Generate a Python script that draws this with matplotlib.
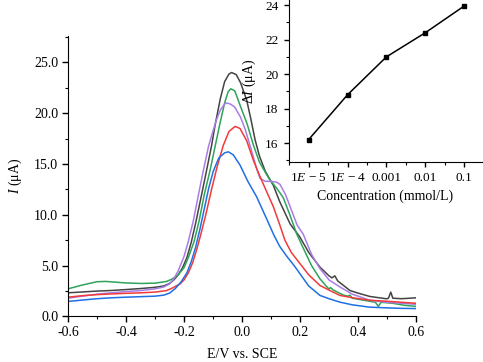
import matplotlib
matplotlib.use('Agg')
import matplotlib.pyplot as plt
from matplotlib.ticker import MultipleLocator, FormatStrFormatter

plt.rcParams['font.family'] = ['Liberation Serif', 'DejaVu Serif']
plt.rcParams['mathtext.fontset'] = 'custom'
plt.rcParams['mathtext.rm'] = 'Liberation Serif'
plt.rcParams['mathtext.it'] = 'Liberation Serif:italic'
plt.rcParams['axes.unicode_minus'] = True

#DPV curves (E in V, I in uA)
black_E = [-0.60, -0.50, -0.45, -0.40, -0.35, -0.30, -0.27, -0.25, -0.235, -0.22, -0.205, -0.19,
           -0.175, -0.159, -0.14, -0.122, -0.105, -0.093, -0.075, -0.06, -0.045, -0.036, -0.02,
           -0.005, 0.016, 0.03, 0.045, 0.06, 0.08, 0.108, 0.13, 0.166, 0.20, 0.23, 0.269, 0.30,
           0.31, 0.32, 0.33, 0.372, 0.40, 0.441, 0.499, 0.505, 0.513, 0.52, 0.55, 0.58, 0.60]
black_I = [2.33, 2.50, 2.56, 2.65, 2.75, 2.87, 3.0, 3.25, 3.6, 4.1, 4.8, 5.8,
           7.3, 9.3, 11.9, 14.4, 16.8, 18.8, 21.4, 23.1, 23.85, 24.0, 23.8,
           23.0, 21.3, 19.5, 17.4, 15.8, 14.3, 12.9, 11.3, 9.1, 7.8, 6.3, 4.85, 4.0,
           3.8, 4.0, 3.5, 2.56, 2.3, 1.97, 1.74, 1.8, 2.4, 1.8, 1.75, 1.8, 1.84]

green_E = [-0.60, -0.55, -0.50, -0.47, -0.40, -0.35, -0.30, -0.26, -0.24, -0.22, -0.20, -0.185,
           -0.165, -0.148, -0.13, -0.11, -0.093, -0.076, -0.06, -0.048, -0.039, -0.025, -0.007,
           0.017, 0.04, 0.06, 0.08, 0.097, 0.12, 0.142, 0.165, 0.189, 0.21, 0.24, 0.269, 0.29,
           0.30, 0.305, 0.315, 0.35, 0.365, 0.372, 0.38, 0.42, 0.46, 0.47, 0.48, 0.52, 0.56, 0.60]
green_I = [2.72, 3.1, 3.42, 3.45, 3.3, 3.25, 3.28, 3.45, 3.7, 4.1, 4.8, 5.8,
           7.4, 9.4, 12.0, 14.4, 16.7, 19.0, 21.0, 22.1, 22.4, 22.2, 20.8,
           19.0, 16.8, 15.2, 14.2, 13.4, 12.6, 11.7, 10.0, 8.1, 6.8, 5.0, 3.7, 3.0,
           2.7, 2.85, 2.6, 2.1, 2.0, 2.1, 1.8, 1.6, 1.4, 1.0, 1.4, 1.3, 1.1, 1.0]

purple_E = [-0.60, -0.55, -0.50, -0.45, -0.40, -0.35, -0.30, -0.27, -0.25, -0.235, -0.22, -0.20,
            -0.185, -0.168, -0.15, -0.133, -0.115, -0.09, -0.075, -0.06, -0.053, -0.04, -0.025,
            -0.005, 0.01, 0.03, 0.05, 0.062, 0.08, 0.10, 0.12, 0.131, 0.15, 0.17, 0.19, 0.211,
            0.24, 0.269, 0.30, 0.338, 0.38, 0.441, 0.50, 0.55, 0.60]
purple_I = [1.80, 2.0, 2.2, 2.33, 2.45, 2.55, 2.72, 2.9, 3.2, 3.7, 4.5, 5.9,
            7.4, 9.4, 12.0, 14.4, 16.8, 19.2, 20.3, 20.9, 21.0, 20.9, 20.6,
            19.6, 18.5, 16.6, 14.6, 13.6, 13.3, 13.3, 13.2, 13.0, 12.0, 10.5, 9.0, 8.1,
            6.1, 4.7, 3.6, 2.9, 2.2, 1.6, 1.4, 1.3, 1.2]

red_E = [-0.60, -0.55, -0.50, -0.45, -0.40, -0.35, -0.30, -0.26, -0.24, -0.214, -0.20, -0.185,
         -0.17, -0.155, -0.14, -0.125, -0.105, -0.087, -0.065, -0.045, -0.024, -0.007, 0.016,
         0.04, 0.06, 0.08, 0.108, 0.128, 0.148, 0.17, 0.20, 0.23, 0.269, 0.30, 0.338, 0.38,
         0.44, 0.50, 0.55, 0.60]
red_I = [1.90, 2.05, 2.15, 2.22, 2.28, 2.33, 2.40, 2.55, 2.8, 3.2, 3.6, 4.3,
         5.3, 6.7, 8.3, 10.0, 12.5, 14.6, 16.8, 18.2, 18.7, 18.5, 17.3,
         15.3, 13.9, 12.6, 10.8, 9.2, 7.5, 6.3, 5.2, 4.1, 3.05, 2.6, 2.07, 1.85,
         1.6, 1.5, 1.4, 1.3]

blue_E = [-0.60, -0.55, -0.50, -0.45, -0.40, -0.35, -0.30, -0.27, -0.25, -0.23, -0.21, -0.19,
          -0.175, -0.16, -0.145, -0.13, -0.115, -0.099, -0.08, -0.06, -0.047, -0.03, -0.007,
          0.02, 0.05, 0.085, 0.11, 0.13, 0.155, 0.18, 0.20, 0.23, 0.269, 0.30, 0.338, 0.38,
          0.44, 0.50, 0.55, 0.60]
blue_I = [1.48, 1.62, 1.75, 1.84, 1.9, 1.95, 2.0, 2.1, 2.3, 2.75, 3.4, 4.3,
          5.4, 6.8, 8.6, 10.6, 12.6, 14.3, 15.6, 16.1, 16.2, 15.9, 14.9,
          13.3, 11.8, 9.6, 8.0, 6.9, 5.9, 5.0, 4.2, 3.0, 2.07, 1.75, 1.41, 1.15,
          0.92, 0.85, 0.8, 0.78]

#inset: peak current vs concentration
conc_labels = ['1$E$ \u2212 5', '1$E$ \u2212 4', '0.001', '0.01', '0.1']
delta_I = [16.2, 18.8, 21.0, 22.4, 23.95]

fig = plt.figure(figsize=(4.83, 3.62), dpi=100)
ax = fig.add_axes([0.1408, 0.1257, 0.7205, 0.775])

ax.plot(black_E, black_I, color='#444444', lw=1.1)
ax.plot(green_E, green_I, color='#2ea35a', lw=1.1)
ax.plot(purple_E, purple_I, color='#a97de6', lw=1.1)
ax.plot(red_E, red_I, color='#f23a3a', lw=1.1)
ax.plot(blue_E, blue_I, color='#1f6fe5', lw=1.1)

ax.set_xlim(-0.6, 0.6)
ax.set_ylim(0, 27.6)
ax.xaxis.set_major_locator(MultipleLocator(0.2))
ax.xaxis.set_minor_locator(MultipleLocator(0.1))
ax.yaxis.set_major_locator(MultipleLocator(5))
ax.yaxis.set_minor_locator(MultipleLocator(2.5))
ax.xaxis.set_major_formatter(FormatStrFormatter('%.1f'))
ax.yaxis.set_major_formatter(FormatStrFormatter('%.1f'))
ax.spines['top'].set_visible(False)
ax.spines['right'].set_visible(False)
ax.tick_params(which='major', direction='out', length=4, width=1, labelsize=10, pad=3)
ax.tick_params(which='minor', direction='out', length=2.5, width=0.8)
ax.set_xlabel('E/V vs. SCE', fontsize=10, labelpad=6)
ax.set_ylabel('$I$ (\u03bcA)', fontsize=10, labelpad=7)

#inset axes in upper right
ins = fig.add_axes([0.598, 0.5525, 0.40, 0.4475])
ins.plot(range(len(delta_I)), delta_I, color='black', lw=1.1, marker='s', markersize=3)
ins.set_xlim(-0.51, 4.46)
ins.set_ylim(14.9, 24.3)
ins.set_xticks(range(len(conc_labels)))
ins.set_xticklabels(conc_labels)
ins.xaxis.set_minor_locator(MultipleLocator(0.5))
ins.yaxis.set_major_locator(MultipleLocator(2))
ins.yaxis.set_minor_locator(MultipleLocator(1))
ins.spines['top'].set_visible(False)
ins.spines['right'].set_visible(False)
ins.tick_params(which='major', direction='out', length=3.5, width=1, labelsize=9.5, pad=4)
ins.tick_params(which='minor', direction='out', length=2, width=0.8)
ins.set_xlabel('Concentration (mmol/L)', fontsize=10, labelpad=4)
ins.set_ylabel('\u0394$I$ (\u03bcA)', fontsize=10, labelpad=5)

plt.savefig('out.png', dpi=100)
